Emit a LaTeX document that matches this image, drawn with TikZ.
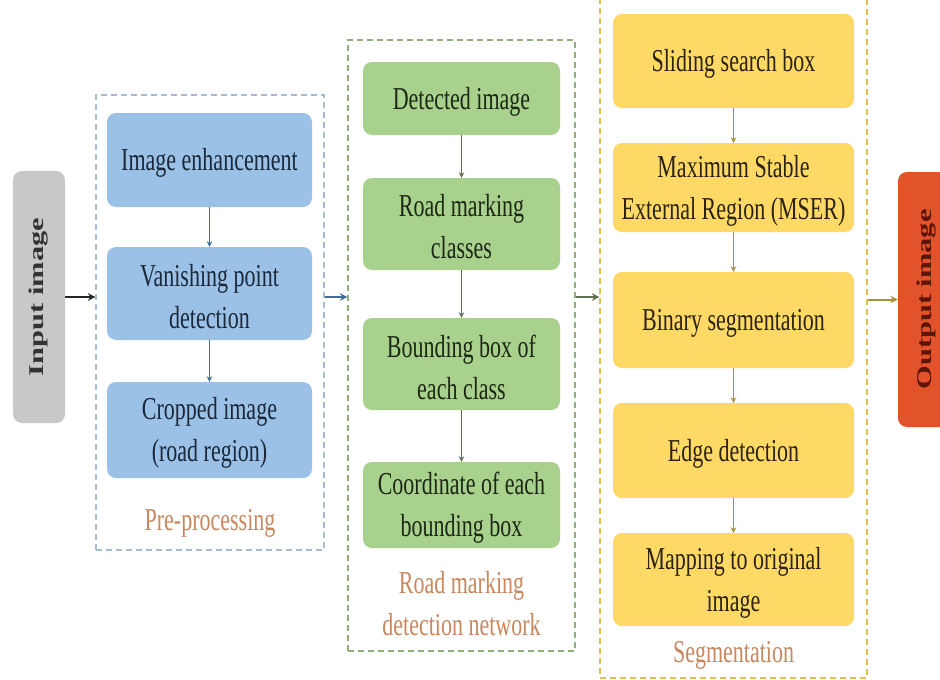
\documentclass[tikz,border=0pt]{standalone}
\usepackage{graphicx}
\usepackage{fontspec}
\setmainfont{Liberation Serif}
\usetikzlibrary{arrows.meta}
\newcommand{\sy}[1]{\raisebox{-3pt}[\height][\depth]{\scalebox{1}[1.45]{#1}}}
\newcommand{\sxx}[1]{\scalebox{1.45}[1]{#1}}
\definecolor{bfill}{HTML}{9CC1E6}
\definecolor{gfill}{HTML}{A9D18E}
\definecolor{yfill}{HTML}{FFD966}
\definecolor{grfill}{HTML}{C8C8C8}
\definecolor{rfill}{HTML}{E2522B}
\definecolor{btext}{HTML}{1A283A}
\definecolor{gtext}{HTML}{1C2814}
\definecolor{ytext}{HTML}{2B2210}
\definecolor{otext}{HTML}{5C1508}
\definecolor{labc}{HTML}{C8875E}
\definecolor{bframe}{HTML}{A7BCD0}
\definecolor{gframe}{HTML}{8FB07A}
\definecolor{yframe}{HTML}{E3C04E}
\definecolor{barrow}{HTML}{3E6E9E}
\definecolor{garrow}{HTML}{5E7050}
\definecolor{yarrow}{HTML}{A8923A}
\begin{document}
\begin{tikzpicture}[x=1pt,y=-1pt,
  txt/.style={align=center, font=\fontsize{22}{42}\selectfont, inner sep=0pt},
  bluebox/.style={txt, fill=bfill, text=btext, rounded corners=9pt, minimum width=205pt},
  greenbox/.style={txt, fill=gfill, text=gtext, rounded corners=9pt, minimum width=197pt},
  yellowbox/.style={txt, fill=yfill, text=ytext, rounded corners=9pt, minimum width=241pt},
  frame/.style={draw, dashed, dash pattern=on 6pt off 4pt, line width=1.1pt, inner sep=0pt},
  lab/.style={txt, text=labc},
  arr/.style={line width=2pt, -{Stealth[length=7.5pt,width=7.5pt]}},
  varr/.style={line width=1.4pt, -{Stealth[length=5.5pt,width=5.5pt]}},
  endbox/.style={inner sep=0pt, rounded corners=9pt, font=\fontsize{21}{25}\selectfont}
]
\useasboundingbox (0,0) rectangle (940,680);
\clip (0,0) rectangle (940,680);
\fill[white] (0,0) rectangle (940,680);

% frames
\node[frame, draw=bframe, minimum width=228pt, minimum height=455pt] (pre) at (210,322.5) {};
\node[frame, draw=gframe, minimum width=227pt, minimum height=611pt] (grn) at (461.5,345.5) {};
\node[frame, draw=yframe, minimum width=267pt, minimum height=683pt] (yel) at (733.5,336.5) {};

% input / output
\node[endbox, fill=grfill, text=black!80, minimum width=52pt, minimum height=252pt] (in) at (39,297)
  {\rotatebox{90}{\sxx{\textbf{Input image}}}};
\node[endbox, fill=rfill, text=otext, minimum width=58pt, minimum height=255pt] (out) at (927,299.5)
  {\rotatebox{90}{\sxx{\textbf{Output image}}}};

% pre-processing
\node[bluebox, minimum height=94pt] (ie) at (209.5,160) {\sy{Image enhancement}};
\node[bluebox, minimum height=93pt] (vp) at (209.5,293.5) {\sy{Vanishing point}\\\sy{detection}};
\node[bluebox, minimum height=96pt] (ci) at (209.5,430) {\sy{Cropped image}\\\sy{(road region)}};
\node[lab] (prel) at (210,520) {\sy{Pre-processing}};

% detection network
\node[greenbox, minimum height=73pt] (di) at (461.5,98.5) {\sy{Detected image}};
\node[greenbox, minimum height=92pt] (rm) at (461.5,224) {\sy{Road marking}\\\sy{classes}};
\node[greenbox, minimum height=92pt] (bb) at (461.5,364) {\sy{Bounding box of}\\\sy{each class}};
\node[greenbox, minimum height=86pt] (co) at (461.5,505) {\sy{Coordinate of each}\\\sy{bounding box}};
\node[lab] (rml) at (461.5,601) {\sy{Road marking}\\\sy{detection network}};

% segmentation
\node[yellowbox, minimum height=94pt] (sb) at (733.5,61) {\sy{Sliding search box}};
\node[yellowbox, minimum height=89pt] (ms) at (733.5,187.5) {\sy{Maximum Stable}\\\sy{External Region (MSER)}};
\node[yellowbox, minimum height=96pt] (bs) at (733.5,320) {\sy{Binary segmentation}};
\node[yellowbox, minimum height=95pt] (ed) at (733.5,450.5) {\sy{Edge detection}};
\node[yellowbox, minimum height=93pt] (mp) at (733.5,579.5) {\sy{Mapping to original}\\\sy{image}};
\node[lab] (segl) at (733.5,652) {\sy{Segmentation}};

% vertical arrows
\draw[varr, barrow] (ie) -- (vp);
\draw[varr, barrow] (vp) -- (ci);
\draw[varr, garrow] (di) -- (rm);
\draw[varr, garrow] (rm) -- (bb);
\draw[varr, garrow] (bb) -- (co);
\draw[varr, yarrow] (sb) -- (ms);
\draw[varr, yarrow] (ms) -- (bs);
\draw[varr, yarrow] (bs) -- (ed);
\draw[varr, yarrow] (ed) -- (mp);

% horizontal arrows
\draw[arr, black!85] (in.east) -- (in.east -| pre.west);
\draw[arr, barrow] (pre.east |- in.east) -- (in.east -| grn.west);
\draw[arr, garrow] (grn.east |- in.east) -- (in.east -| yel.west);
\draw[arr, yarrow] (yel.east |- out.west) -- (out.west);
\end{tikzpicture}
\end{document}
